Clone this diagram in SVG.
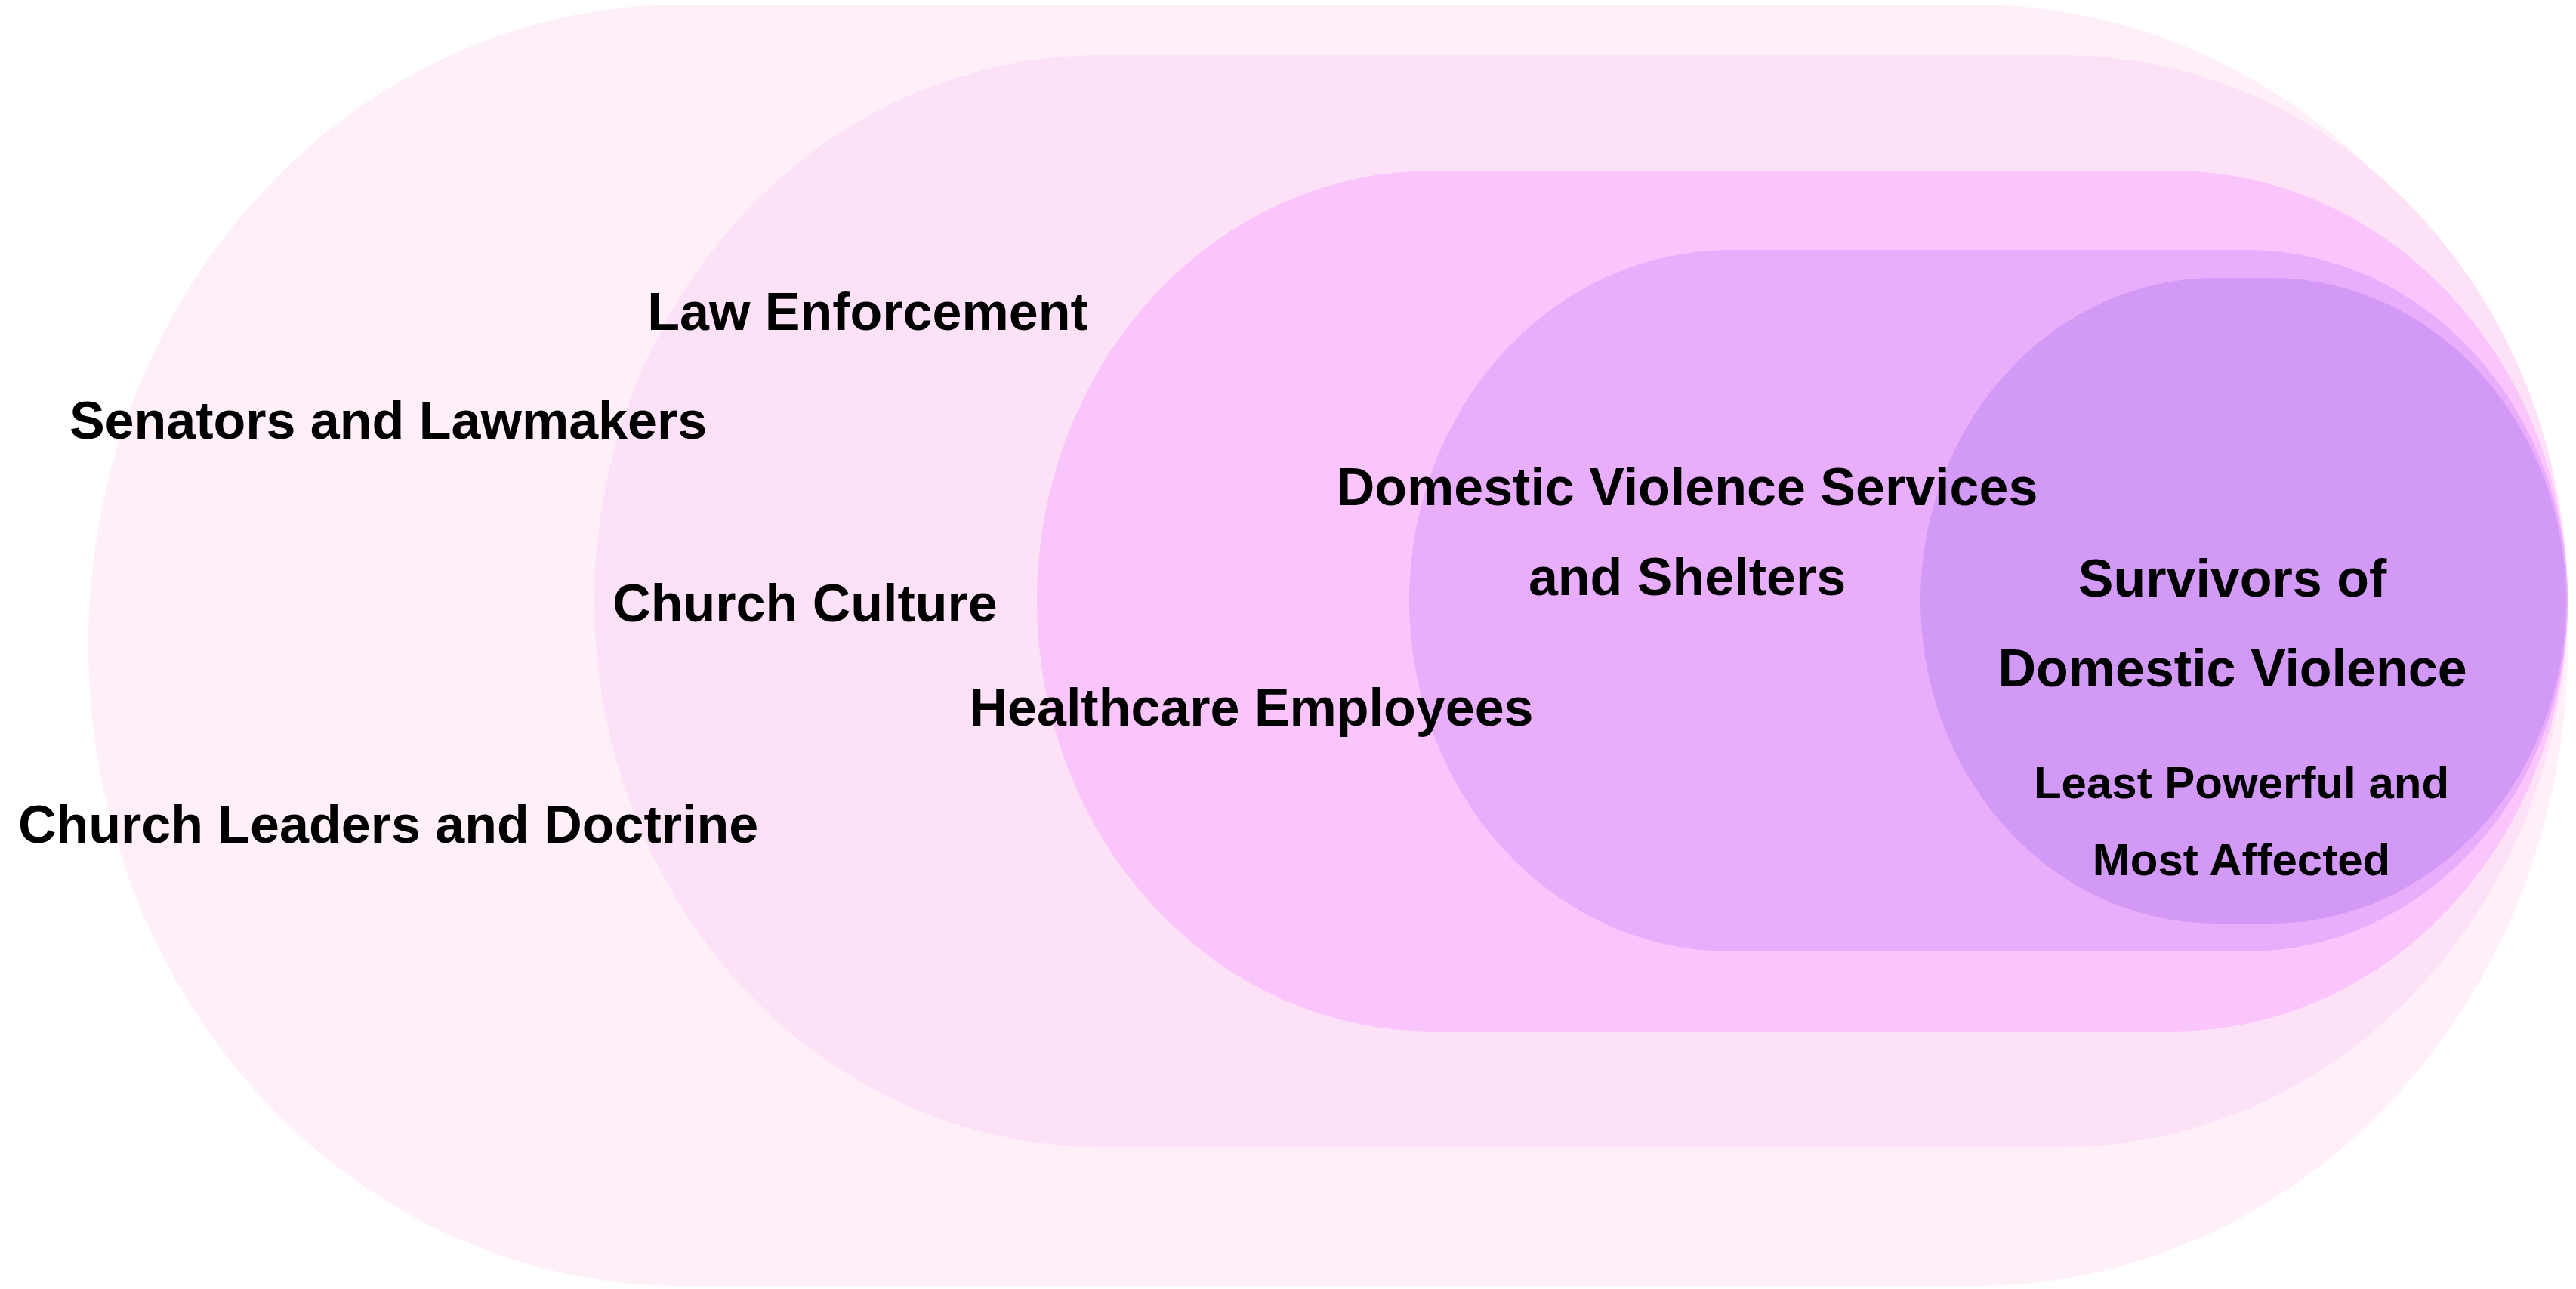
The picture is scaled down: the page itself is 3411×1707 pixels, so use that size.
<svg xmlns="http://www.w3.org/2000/svg" width="3411" height="1707" viewBox="0 0 3411 1707">
  <style>
    .lbl { font-family: "Liberation Sans", Arial, sans-serif; font-weight: bold; fill: #000000; text-anchor: middle; }
    .big { font-size: 70px; }
    .small { font-size: 60px; }
  </style>
  <rect x="0" y="0" width="3411" height="1707" fill="#FFFFFF"/>
  <g id="ring-outer">
    <rect x="117" y="6" width="3283" height="1697" rx="786" ry="848.5" fill="#FEEFF9"/>
  </g>
  <g id="ring-second">
    <rect x="787" y="73" width="2613" height="1446" rx="670" ry="723" fill="#FDE1F6"/>
  </g>
  <g id="ring-healthcare">
    <rect x="1373" y="226" width="2027" height="1140" rx="524" ry="570" fill="#FAC4FC"/>
  </g>
  <g id="ring-dv-services">
    <rect x="1866" y="331" width="1534" height="929" rx="425" ry="464.5" fill="#E8AEFC"/>
  </g>
  <g id="ring-survivors">
    <rect x="2543" y="368" width="855" height="855" rx="391" ry="427.5" fill="#D29AF6"/>
  </g>
  <g id="labels">
    <g id="label-outer">
      <text class="lbl big" x="514" y="581">Senators and Lawmakers</text>
      <text class="lbl big" x="514" y="1116">Church Leaders and Doctrine</text>
    </g>
    <g id="label-second">
      <text class="lbl big" x="1149" y="437">Law Enforcement</text>
      <text class="lbl big" x="1066" y="823">Church Culture</text>
    </g>
    <g id="label-healthcare">
      <text class="lbl big" x="1657" y="961">Healthcare Employees</text>
    </g>
    <g id="label-dv-services">
      <text class="lbl big" x="2234" y="669">Domestic Violence Services</text>
      <text class="lbl big" x="2234" y="788">and Shelters</text>
    </g>
    <g id="label-survivors">
      <text class="lbl big" x="2956" y="790">Survivors of</text>
      <text class="lbl big" x="2956" y="909">Domestic Violence</text>
      <text class="lbl small" x="2968" y="1057">Least Powerful and</text>
      <text class="lbl small" x="2968" y="1159">Most Affected</text>
    </g>
  </g>
  <g id="connectors"></g>
</svg>
